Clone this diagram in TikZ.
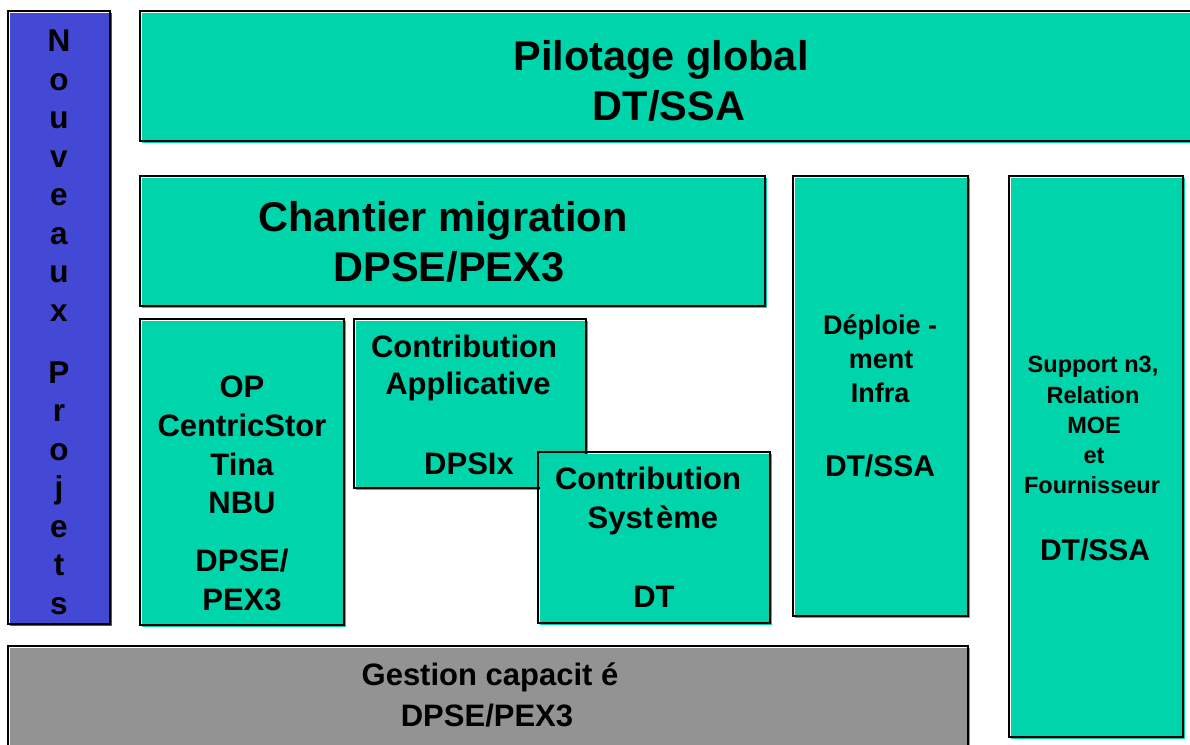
\documentclass[tikz,border=0pt]{standalone}
\usepackage{fontspec}
\setmainfont{Liberation Sans}
\definecolor{teal1}{RGB}{0,212,170}
\definecolor{blue1}{RGB}{67,73,212}
\definecolor{gray1}{RGB}{147,147,147}
\tikzset{
  edge/.style={draw=black, line width=1.1pt},
  txt/.style={anchor=base, inner sep=0pt, text=black},
  fa/.style={txt, font=\bfseries\fontsize{41.5}{48}\selectfont},
  fb/.style={txt, font=\bfseries\fontsize{31}{38}\selectfont},
  fc/.style={txt, font=\bfseries\fontsize{27}{32}\selectfont},
  fd/.style={txt, font=\bfseries\fontsize{23.5}{28}\selectfont},
  fe/.style={txt, font=\bfseries\fontsize{30}{34}\selectfont},
  fl/.style={txt, font=\bfseries\fontsize{31.5}{34}\selectfont},
}
\newcommand{\pbox}[5]{%
  \fill[#5] (#1+1.5,#2+1.5) rectangle (#3+1.5,#4+1.5);
  \draw[edge] (#1,#2) rectangle (#3,#4);}
\begin{document}
\begin{tikzpicture}[x=1pt,y=-1pt]
\useasboundingbox (0,0) rectangle (1190,744);
\clip (0,0) rectangle (1190,744);
% boxes
\pbox{8}{11}{110}{624}{blue1}
\pbox{140}{11}{1195}{141}{teal1}
\pbox{140}{176}{765}{306}{teal1}
\pbox{140}{319}{344}{625}{teal1}
\pbox{354}{319}{586}{488}{teal1}
\pbox{538}{452}{770}{623}{teal1}
\pbox{793}{176}{968}{616}{teal1}
\pbox{1009}{176}{1183}{737}{teal1}
\pbox{8}{646}{968}{750}{gray1}
% Nouveaux Projets
\foreach \c/\y [count=\i] in {N/51.5,o/90,u/128.5,v/167,e/205.5,a/244,u/282.5,x/321,P/383,r/421.5,o/460,j/498.5,e/537,t/575.5,s/614}
  \node[fl] (np\i) at (59,\y) {\c};
% Pilotage global
\node[fa] (pg1) at (661,70) {Pilotage global};
\node[fa] (pg2) at (669,120) {DT/SSA};
% Chantier migration
\node[fa] (cm1) at (443,231) {Chantier migration};
\node[fa] (cm2) at (449,281) {DPSE/PEX3};
% OP
\node[fb] (op1) at (242,397) {OP};
\node[fb] (op2) at (242,436) {CentricStor};
\node[fb] (op3) at (242,475) {Tina};
\node[fb] (op4) at (242,513) {NBU};
\node[fb] (op5) at (242,571) {DPSE/};
\node[fb] (op6) at (242,610) {PEX3};
% Contribution Applicative
\node[fb] (ca1) at (464,357) {Contribution};
\node[fb] (ca2) at (468,394) {Applicative};
\node[fb] (ca3) at (469,474) {DPSIx};
% Contribution Systeme
\node[fb] (cs1) at (648,489) {Contribution};
\node[fb] (cs2) at (653,528) {Syst\kern3pt ème};
\node[fb] (cs3) at (654,607) {DT};
% Deploiement
\node[fc] (di1) at (880,334) {Déploie -};
\node[fc] (di2) at (881,368) {ment};
\node[fc] (di3) at (880,402.5) {Infra};
\node[fe] (di4) at (880,476) {DT/SSA};
% Support
\node[fd] (sp1) at (1093,372) {Support n3,};
\node[fd] (sp2) at (1093,403) {Relation};
\node[fd] (sp3) at (1094,433) {MOE};
\node[fd] (sp4) at (1094,463) {et};
\node[fd] (sp5) at (1092,493) {Fournisseur};
\node[fe] (sp6) at (1095,560) {DT/SSA};
% Gestion capacite
\node[fb] (gc1) at (490,685) {Gestion capacit é};
\node[fb] (gc2) at (487,726) {DPSE/PEX3};
\end{tikzpicture}
\end{document}
